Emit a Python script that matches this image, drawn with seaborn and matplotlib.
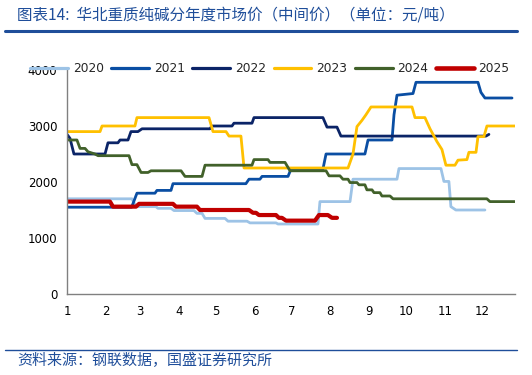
import matplotlib
matplotlib.use("Agg")
import matplotlib.pyplot as plt
import seaborn as sns
import pandas as pd
from matplotlib.lines import Line2D

# ---- data (x = day of year, y = price in yuan/ton) ----
years = ["2020", "2021", "2022", "2023", "2024", "2025"]

x2020 = [1, 53.3, 56.5, 72.6, 74.2, 84.7, 87.1, 103.2, 105.6, 109.7, 112.1, 128.2, 130.6, 145.9, 148.3,
         169.2, 170.8, 203, 204.6, 228.8, 231.2, 266.6, 268.2, 302, 304.4, 308.4, 310, 314, 337.4]
y2020 = [1700, 1700, 1560, 1560, 1530, 1530, 1490, 1490, 1440, 1440, 1350, 1350, 1300, 1300, 1270,
         1270, 1250, 1250, 1650, 1650, 2050, 2050, 2240, 2240, 2010, 2010, 1560, 1500, 1500]

x2021 = [1, 53, 57.3, 71.8, 73.4, 84.7, 86.3, 145, 147.5, 156.3, 158, 178.9, 181.3, 207, 209.5,
         240.8, 243.3, 262.6, 264.2, 266.6, 279.5, 281.9, 331.8, 334.2, 337.4, 359.2]
y2021 = [1550, 1550, 1800, 1800, 1850, 1850, 1970, 1970, 2050, 2050, 2100, 2100, 2230, 2230, 2500,
         2500, 2750, 2750, 3200, 3550, 3580, 3780, 3780, 3600, 3500, 3500]

x2022 = [1, 3.4, 6.6, 31.6, 34, 42, 43.7, 50.1, 52.5, 58.1, 61.4, 116, 117.7, 133.8, 135.4,
         149.9, 151.5, 207, 210.3, 218.3, 221.5, 338.2, 340.6]
y2022 = [2850, 2780, 2500, 2500, 2700, 2700, 2750, 2750, 2900, 2900, 2950, 2950, 3000, 3000, 3050,
         3050, 3150, 3150, 2980, 2980, 2820, 2820, 2850]

x2023 = [1, 27.6, 29.2, 55.7, 57.3, 115.3, 118.5, 129, 131.4, 141, 143.5, 227.2, 229.6, 231.2, 234.4,
         238.4, 241.6, 245.7, 278.7, 281.1, 289.1, 293.2, 298.8, 302.8, 306, 313.3, 315.7, 322.9,
         324.5, 330.2, 331.8, 336.6, 339, 361.6]
y2023 = [2900, 2900, 3000, 3000, 3150, 3150, 2900, 2900, 2820, 2820, 2250, 2250, 2400, 2500, 2990,
         3100, 3200, 3340, 3340, 3150, 3150, 2950, 2720, 2580, 2300, 2300, 2390, 2400,
         2530, 2530, 2810, 2810, 3000, 3000]

x2024 = [1, 9, 11.5, 15.5, 17.9, 23.5, 26, 50.9, 53.3, 57.3, 60.6, 66.2, 68.6, 92.8, 96, 109.7,
         112.1, 149.9, 151.5, 162.8, 164.4, 176.5, 180.5, 209.5, 211.9, 220.7, 223.1, 227.2, 228.8,
         234.4, 236, 240.8, 242.4, 246.5, 248.1, 252.9, 254.5, 261, 263.4, 339, 341.4, 361.6]
y2024 = [2750, 2750, 2600, 2600, 2540, 2500, 2470, 2470, 2310, 2310, 2170, 2170, 2200, 2200, 2100, 2100,
         2300, 2300, 2400, 2400, 2350, 2350, 2200, 2200, 2110, 2110, 2050, 2050, 1990,
         1990, 1950, 1950, 1860, 1860, 1810, 1810, 1750, 1750, 1700, 1700, 1650, 1650]

x2025 = [1, 35.6, 38, 56.5, 59, 86.3, 88.7, 105.6, 108, 147.5, 150.7, 153.1, 155.5, 169.2, 171.6,
         174, 177.3, 200.6, 203.8, 211, 214.3, 218.3]
y2025 = [1650, 1650, 1560, 1560, 1610, 1610, 1560, 1560, 1500, 1500, 1450, 1450, 1410, 1410, 1360,
         1360, 1310, 1310, 1410, 1410, 1360, 1360]

month_start_days = [1, 32, 60, 91, 121, 152, 182, 213, 244, 274, 305, 335]
month_labels = ["1", "2", "3", "4", "5", "6", "7", "8", "9", "10", "11", "12"]
y_ticks = [0, 1000, 2000, 3000, 4000]

xs = [x2020, x2021, x2022, x2023, x2024, x2025]
ys = [y2020, y2021, y2022, y2023, y2024, y2025]
colors = ["#9DC3E6", "#0A4EA3", "#0B2467", "#FFC000", "#41612A", "#C00000"]
widths = [2.0, 2.0, 2.0, 2.0, 2.0, 3.0]

sns.set_theme(style="white")
plt.rcParams['font.family'] = ['DejaVu Sans']

fig = plt.figure(figsize=(5.32, 3.75), dpi=100)
ax = fig.add_axes([67/532, 81/375, 448/532, 224/375])

handles = []
for yr, xv, yv, c, w in zip(years, xs, ys, colors, widths):
    df = pd.DataFrame({"day": xv, "price": yv})
    sns.lineplot(data=df, x="day", y="price", ax=ax, color=c, linewidth=w,
                 sort=False, estimator=None)
    handles.append(Line2D([0], [0], color=c, linewidth=w + 0.3, label=yr))

ax.set_xlim(1, 361.6)
ax.set_ylim(0, 4000)
ax.set_xticks(month_start_days)
ax.set_xticklabels(month_labels)
ax.set_yticks(y_ticks)
ax.set_xlabel("")
ax.set_ylabel("")
for s in ["top", "right"]:
    ax.spines[s].set_visible(False)
for s in ["left", "bottom"]:
    ax.spines[s].set_color("#808080")
    ax.spines[s].set_linewidth(1.0)
ax.tick_params(axis="both", which="both", direction="out", length=4, width=1,
               color="#808080", labelsize=8.5, labelcolor="#000000", pad=3)
ax.tick_params(axis="x", pad=4)
ax.grid(False)

leg = fig.legend(handles=handles, loc="center", bbox_to_anchor=(270/532, 1 - 69/375),
                 ncol=6, frameon=False, fontsize=8.8, handlelength=3.1,
                 handletextpad=0.4, columnspacing=0.6)

cjk = ['Noto Sans CJK SC', 'DejaVu Sans']
title_color = "#1F4E9A"
fig.text(17/532, 1 - 15/375, "图表14:  华北重质纯碱分年度市场价（中间价）（单位：元/吨）",
         family=cjk, fontsize=11.2, color=title_color, va="center", ha="left")
fig.add_artist(Line2D([5/532, 517/532], [1 - 31/375, 1 - 31/375], color="#1F4E9A",
                      linewidth=2.2, transform=fig.transFigure))
fig.add_artist(Line2D([5/532, 517/532], [1 - 350/375, 1 - 350/375], color="#1F4E9A",
                      linewidth=1.0, transform=fig.transFigure))
fig.text(17/532, 1 - 361/375, "资料来源：钢联数据，国盛证券研究所",
         family=cjk, fontsize=10.8, color=title_color, va="center", ha="left")

fig.savefig("out.png", dpi=100)
